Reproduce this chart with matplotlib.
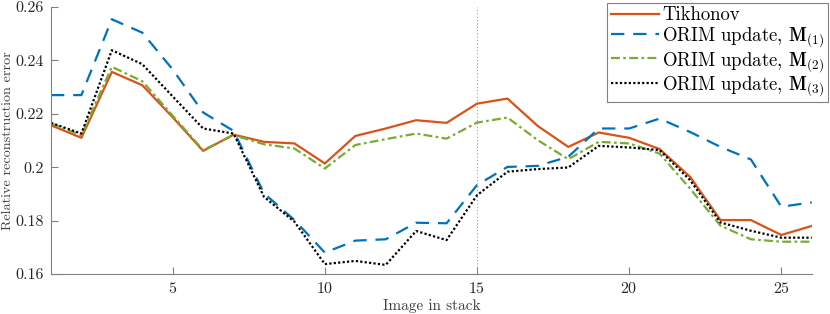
import matplotlib
matplotlib.use("Agg")
import matplotlib.pyplot as plt
import numpy as np

# Dữ liệu
images = list(range(1, 27))
tikhonov = [0.2157, 0.2110, 0.2357, 0.2307, 0.2187, 0.2061, 0.2122, 0.2095, 0.2089, 0.2014,
            0.2117, 0.2145, 0.2176, 0.2166, 0.2238, 0.2257, 0.2154, 0.2076, 0.2130, 0.2110,
            0.2068, 0.1964, 0.1802, 0.1802, 0.1746, 0.1780]
orim_m1 = [0.2270, 0.2270, 0.2554, 0.2504, 0.2366, 0.2205, 0.2136, 0.1902, 0.1802, 0.1680,
           0.1725, 0.1730, 0.1792, 0.1790, 0.1933, 0.2001, 0.2005, 0.2039, 0.2145, 0.2145,
           0.2182, 0.2132, 0.2076, 0.2029, 0.1852, 0.1868]
orim_m2 = [0.2164, 0.2120, 0.2376, 0.2322, 0.2193, 0.2064, 0.2120, 0.2086, 0.2070, 0.1995,
           0.2083, 0.2105, 0.2126, 0.2107, 0.2167, 0.2186, 0.2101, 0.2030, 0.2095, 0.2089,
           0.2051, 0.1920, 0.1781, 0.1730, 0.1721, 0.1721]
orim_m3 = [0.2166, 0.2126, 0.2438, 0.2386, 0.2265, 0.2145, 0.2126, 0.1889, 0.1796, 0.1637,
           0.1649, 0.1634, 0.1761, 0.1727, 0.1895, 0.1983, 0.1993, 0.1999, 0.2080, 0.2074,
           0.2064, 0.1952, 0.1793, 0.1762, 0.1736, 0.1736]
labels = ['Tikhonov',
          r'ORIM update, $\mathbf{M}_{(1)}$',
          r'ORIM update, $\mathbf{M}_{(2)}$',
          r'ORIM update, $\mathbf{M}_{(3)}$']
x_ticks = [5, 10, 15, 20, 25]
y_ticks = [0.16, 0.18, 0.2, 0.22, 0.24, 0.26]
marker_x = 15

plt.rcParams['font.family'] = ['cmr10', 'DejaVu Serif']
plt.rcParams['mathtext.fontset'] = 'cm'
plt.rcParams['axes.formatter.use_mathtext'] = True

fig = plt.figure(figsize=(8.3, 3.14), dpi=100)
ax = fig.add_axes([0.0614, 0.1274, 0.9166, 0.8503])

ax.axvline(marker_x, color='#999999', linestyle=(0, (1, 2)), linewidth=0.8)

ax.plot(images, tikhonov, color='#D95319', linewidth=1.6, label=labels[0])
ax.plot(images, orim_m1, color='#0072BD', linewidth=1.6, linestyle=(0, (6, 4)), label=labels[1])
ax.plot(images, orim_m2, color='#77AC30', linewidth=1.6, linestyle=(0, (4, 1.5, 1.2, 1.5)), label=labels[2])
ax.plot(images, orim_m3, color='black', linewidth=1.6, linestyle=(0, (1, 1)), label=labels[3])

ax.set_xlim(1, 26)
ax.set_ylim(0.16, 0.26)
ax.set_xticks(x_ticks)
ax.set_yticks(y_ticks)
ax.set_yticklabels(['%g' % v for v in y_ticks])

for s in ['top', 'right']:
    ax.spines[s].set_visible(False)
for s in ['left', 'bottom']:
    ax.spines[s].set_color('#808080')
    ax.spines[s].set_linewidth(0.8)
ax.tick_params(direction='in', length=5, color='#808080', labelsize=11.5,
               labelcolor='#262626', width=0.8, pad=5)

ax.set_xlabel('Image in stack', fontsize=11, color='#404040', labelpad=2)
ax.set_ylabel('Relative reconstruction error', fontsize=10.2, color='#404040')
ax.yaxis.set_label_coords(-0.049, 0.5)

leg = ax.legend(loc='upper right', bbox_to_anchor=(0.998, 0.992),
                bbox_transform=fig.transFigure, fontsize=13.5, fancybox=False,
                framealpha=1, edgecolor='#808080', handlelength=2.6,
                labelspacing=0.05, borderpad=0.2, handletextpad=0.15,
                borderaxespad=0)
leg.get_frame().set_linewidth(0.8)

fig.savefig('out.png', dpi=100)
